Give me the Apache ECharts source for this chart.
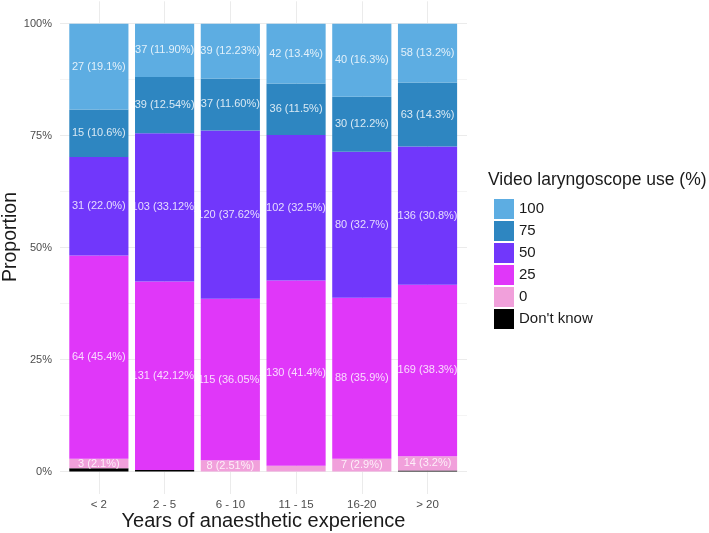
<!DOCTYPE html>
<html><head><meta charset="utf-8">
<script src="https://cdn.jsdelivr.net/npm/echarts@6/dist/echarts.min.js"></script>
<style>html,body{margin:0;padding:0;background:#fff}#c{width:709px;height:533px}</style>
</head><body><div id="c"></div>
<script>
const categories = ['< 2', '2 - 5', '6 - 10', '11 - 15', '16-20', '> 20'];
const levels = ['100', '75', '50', '25', '0', "Don't know"];
const n100 = [27, 37, 39, 42, 40, 58];
const n75 = [15, 39, 37, 36, 30, 63];
const n50 = [31, 103, 120, 102, 80, 136];
const n25 = [64, 131, 115, 130, 88, 169];
const n0 = [3, 0, 8, 4, 7, 14];
const nDK = [1, 1, 0, 0, 0, 1];
const pctDecimals = [1, 2, 2, 1, 1, 1];
const show0 = [true, false, true, false, true, true];
const yTickValues = [0, 0.25, 0.5, 0.75, 1];
const yTickLabels = ['0%', '25%', '50%', '75%', '100%'];
const colors = {'100': '#5DADE2', '75': '#2E86C1', '50': '#7137FB', '25': '#E037F9', '0': '#F1A0DB', "Don't know": '#000000'};

const counts = {'100': n100, '75': n75, '50': n50, '25': n25, '0': n0, "Don't know": nDK};
const totals = categories.map((c, i) => levels.reduce((s, l) => s + counts[l][i], 0));
const FONT = '"Liberation Sans", Arial, sans-serif';

const stackOrder = ["Don't know", '0', '25', '50', '75', '100'];
const barSeries = stackOrder.map(l => ({
  name: l, type: 'bar', stack: 'all', xAxisIndex: 2, yAxisIndex: 2,
  barWidth: '90%',
  itemStyle: {color: colors[l]},
  data: counts[l].map((v, i) => {
    const shown = v > 0 && l !== "Don't know" && (l !== '0' || show0[i]);
    return {
      value: v / totals[i],
      label: {
        show: shown,
        formatter: v + ' (' + (v / totals[i] * 100).toFixed(pctDecimals[i]) + '%)'
      }
    };
  }),
  label: {position: 'inside', color: 'rgba(255,255,255,0.82)', fontSize: 11, fontFamily: FONT},
  emphasis: {disabled: true},
  animation: false
}));

const chart = echarts.init(document.getElementById('c'), null, {renderer: 'canvas'});
chart.setOption({
  animation: false,
  backgroundColor: '#ffffff',
  textStyle: {fontFamily: FONT},
  grid: [
    {left: 60, width: 407, top: 23.7, height: 447.8},
    {left: 98.8, width: 328.7, top: 1.3, height: 492.7},
    {left: 66, width: 394.4, top: 23.7, height: 447.8}
  ],
  xAxis: [
    {gridIndex: 0, type: 'category', data: categories, show: false},
    {gridIndex: 1, type: 'category', data: categories, boundaryGap: false,
     axisLine: {show: false}, axisTick: {show: false}, axisLabel: {show: false},
     splitLine: {show: true, lineStyle: {color: '#ebebeb', width: 1}}},
    {gridIndex: 2, type: 'category', data: categories,
     axisLine: {show: false}, axisTick: {show: false},
     axisLabel: {margin: 27, color: '#4d4d4d', fontSize: 11.5, fontFamily: FONT},
     splitLine: {show: false}}
  ],
  yAxis: [
    {gridIndex: 0, type: 'value', min: 0, max: 1, interval: 0.125,
     axisLine: {show: false}, axisTick: {show: false},
     axisLabel: {margin: 8, color: '#4d4d4d', fontSize: 11, fontFamily: FONT,
       formatter: v => { const k = yTickValues.findIndex(t => Math.abs(t - v) < 1e-9); return k >= 0 ? yTickLabels[k] : ''; }},
     splitLine: {show: true, lineStyle: {color: ['#ebebeb', '#f4f4f4'], width: 1}}},
    {gridIndex: 1, type: 'value', min: 0, max: 1, show: false, splitLine: {show: false}},
    {gridIndex: 2, type: 'value', min: 0, max: 1, show: false, splitLine: {show: false}}
  ],
  legend: {
    orient: 'vertical', left: 489, top: 194,
    itemWidth: 20, itemHeight: 20, itemGap: 2,
    icon: 'rect',
    data: levels,
    textStyle: {fontSize: 15, color: '#1a1a1a', fontFamily: FONT},
    selectedMode: false
  },
  graphic: [
    {type: 'text', x: 488, y: 180, style: {text: 'Video laryngoscope use (%)', fill: '#1a1a1a', font: '17.5px ' + FONT, textAlign: 'left', textVerticalAlign: 'middle'}},
    {type: 'text', x: 263.5, y: 521, style: {text: 'Years of anaesthetic experience', fill: '#1a1a1a', font: '20px ' + FONT, textAlign: 'center', textVerticalAlign: 'middle'}},
    {type: 'text', x: 11, y: 237, rotation: Math.PI / 2, style: {text: 'Proportion', fill: '#1a1a1a', font: '19.5px ' + FONT, textAlign: 'center', textVerticalAlign: 'middle'}}
  ],
  series: barSeries
});
</script></body></html>
